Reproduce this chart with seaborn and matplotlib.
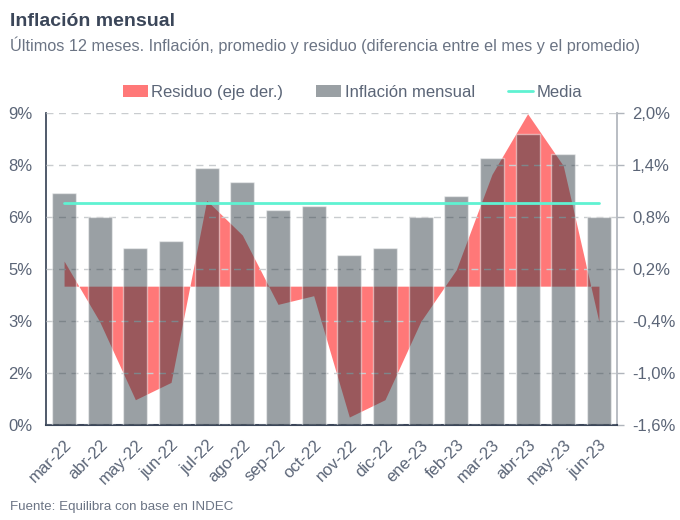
import matplotlib
matplotlib.use("Agg")
import matplotlib.pyplot as plt
import matplotlib.transforms as mtransforms
import seaborn as sns
import numpy as np
import pandas as pd
from matplotlib.patches import Patch
from matplotlib.lines import Line2D

months = ["mar-22", "abr-22", "may-22", "jun-22", "jul-22", "ago-22", "sep-22", "oct-22",
          "nov-22", "dic-22", "ene-23", "feb-23", "mar-23", "abr-23", "may-23", "jun-23"]
inflacion = [6.7, 6.0, 5.1, 5.3, 7.4, 7.0, 6.2, 6.3, 4.9, 5.1, 6.0, 6.6, 7.7, 8.4, 7.8, 6.0]
residuo = [0.29, -0.41, -1.31, -1.11, 0.99, 0.59, -0.21, -0.11, -1.51, -1.31, -0.41, 0.19,
           1.29, 1.99, 1.39, -0.41]
media = 6.41

left_ticks = [0, 1.5, 3, 4.5, 6, 7.5, 9]
left_labels = ["0%", "2%", "3%", "5%", "6%", "8%", "9%"]
right_ticks = [-1.6, -1.0, -0.4, 0.2, 0.8, 1.4, 2.0]
right_labels = ["-1,6%", "-1,0%", "-0,4%", "0,2%", "0,8%", "1,4%", "2,0%"]

sns.set_theme(style="white")
plt.rcParams["font.family"] = ["Liberation Sans", "DejaVu Sans"]

C_TEXT = "#5b6577"
C_DARK = "#3b4659"
C_BAR = "#28353e"
C_RED = "#ff7878"
C_TEAL = "#5ff2d2"

df = pd.DataFrame({"mes": months, "inflacion": inflacion, "residuo": residuo})

fig = plt.figure(figsize=(6.8, 5.2), dpi=100)
ax = fig.add_axes([0.068, 0.183, 0.839, 0.600])
ax2 = ax.twinx()

x = np.arange(len(months))
ax2.fill_between(x, 0, df["residuo"], color=C_RED, linewidth=0)
ax2.set_ylim(-1.6, 2.0)

sns.barplot(data=df, x="mes", y="inflacion", color=C_BAR, alpha=0.47, width=0.67,
            saturation=1, ax=ax, zorder=3)
ax.plot(x, [media] * len(months), color=C_TEAL, linewidth=2, zorder=4)

ax.set_zorder(ax2.get_zorder() + 1)
ax.patch.set_visible(False)

ax.set_xlim(-0.5, len(months) - 0.5)
ax.set_ylim(0, 9)
ax.set_yticks(left_ticks)
ax.set_yticklabels(left_labels, fontsize=12, color=C_TEXT)
ax2.set_yticks(right_ticks)
ax2.set_yticklabels(right_labels, fontsize=12, color=C_TEXT)
ax.set_xlabel("")
ax.set_ylabel("")
ax.set_xticks(x)
ax.set_xticklabels(months, rotation=45, ha="right", rotation_mode="anchor",
                   fontsize=12, color=C_TEXT)
offset = mtransforms.ScaledTranslation(8 / 100, 0, fig.dpi_scale_trans)
for lab in ax.get_xticklabels():
    lab.set_transform(lab.get_transform() + offset)
ax.tick_params(axis="x", length=0, pad=9)
ax.tick_params(axis="y", length=0, pad=10)
ax2.tick_params(axis="y", length=5, width=1, color="#b0b5bc", pad=6)

ax.yaxis.grid(True, linestyle=(0, (5, 4)), color="#c9cccf", linewidth=1)
ax.set_axisbelow(False)
for s in ["top", "right"]:
    ax.spines[s].set_visible(False)
ax.spines["left"].set_color(C_DARK)
ax.spines["bottom"].set_color(C_DARK)
ax.spines["bottom"].set_linewidth(1.5)
for s in ["top", "left", "bottom"]:
    ax2.spines[s].set_visible(False)
ax2.spines["right"].set_color("#b0b5bc")

fig.text(0.014, 0.958, "Inflación mensual", fontsize=14, fontweight="bold",
         color=C_DARK, va="center")
fig.text(0.014, 0.913, "Últimos 12 meses. Inflación, promedio y residuo (diferencia entre el mes y el promedio)",
         fontsize=11.7, color="#6b7484", va="center")
fig.text(0.014, 0.025, "Fuente: Equilibra con base en INDEC", fontsize=9.6,
         color="#6b7484", va="center")

handles = [Patch(facecolor=C_RED, edgecolor="none"),
           Patch(facecolor="#9aa0a4", edgecolor="none"),
           Line2D([0], [0], color=C_TEAL, linewidth=2)]
labels = ["Residuo (eje der.)", "Inflación mensual", "Media"]
fig.legend(handles, labels, loc="center", bbox_to_anchor=(0.518, 0.823), ncol=3,
           frameon=False, fontsize=12, handlelength=1.5, handletextpad=0.2,
           columnspacing=2.0, labelcolor=C_TEXT)

fig.savefig("out.png", dpi=100)
